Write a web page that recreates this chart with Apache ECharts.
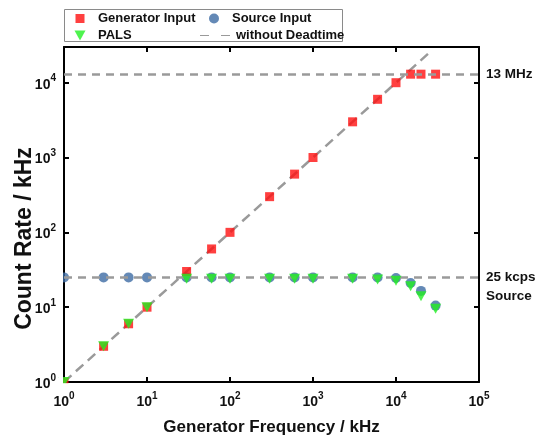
<!DOCTYPE html>
<html>
<head>
<meta charset="utf-8">
<script src="https://cdn.jsdelivr.net/npm/echarts@6/dist/echarts.min.js"></script>
<style>
  html, body { margin: 0; padding: 0; background: #ffffff; }
  #chart { width: 537px; height: 439px; }
</style>
</head>
<body>
<div id="chart"></div>
<script>
// Generator frequency (kHz) and measured count rates (kHz)
const frequencies = [1, 3, 6, 10, 30, 60, 100, 300, 600, 1000, 3000, 6000, 10000, 15000, 20000, 30000];
const generatorInput = [1, 3, 6, 10, 30, 60, 100, 300, 600, 1000, 3000, 6000, 10000, 13000, 13000, 13000];
const sourceInput = [25, 25, 25, 25, 25, 25, 25, 25, 25, 25, 25, 25, 24.5, 21, 16.5, 10.5];
const pals = [1, 3, 6, 10, 24, 24, 24, 24, 24, 24, 24, 23.5, 22.5, 19, 14, 9.5];

// Ideal response (count rate equals generator frequency)
const idealRange = [1, 25000];

// Saturation levels and their annotations
const saturationLevels = [13000, 25];
const saturationLabels = ['13 MHz', ' \n25 kcps\nSource'];

const FONT = '"Liberation Sans", Arial, sans-serif';
const GREY = '#9a9a9a';

const pairs = (xs, ys) => xs.map((x, i) => [x, ys[i]]);

function powerLabel(v) {
  const e = Math.round(Math.log10(v));
  if (Math.abs(Math.pow(10, e) - v) / v > 1e-6) return '';
  return '{b|10}{e|' + e + '}';
}
const powerRich = {
  b: { fontSize: 14, fontWeight: 'bold', fontFamily: FONT, color: '#111', lineHeight: 18, verticalAlign: 'bottom' },
  e: { fontSize: 10, fontWeight: 'bold', fontFamily: FONT, color: '#111', lineHeight: 10, verticalAlign: 'top' }
};

const boxAxisLine = { show: true, lineStyle: { color: '#000', width: 2 } };
const boxTicks = { show: true, inside: true, length: 5, lineStyle: { color: '#000', width: 2 } };

const legendText = { fontSize: 13, fontWeight: 'bold', fontFamily: FONT, color: '#111' };
const withPad = (left) => Object.assign({ padding: [0, 0, 0, left] }, legendText);

const chart = echarts.init(document.getElementById('chart'), null, { renderer: 'canvas' });

chart.setOption({
  backgroundColor: '#ffffff',
  animation: false,
  grid: { left: 64, right: 58, top: 47, bottom: 57, containLabel: false, outerBoundsMode: 'none' },
  legend: [
    { data: ['Generator Input'], left: 70.5, top: 7, itemWidth: 9, itemHeight: 9,
      textStyle: withPad(8.5), selectedMode: false },
    { data: ['Source Input'], left: 204, top: 7, itemWidth: 10, itemHeight: 10,
      textStyle: withPad(8), selectedMode: false },
    { data: [{ name: 'PALS', icon: 'path://M0,0L11,0L5.5,10Z' }], left: 69.5, top: 24,
      itemWidth: 11, itemHeight: 10, textStyle: withPad(7.5), selectedMode: false },
    { data: [{ name: 'without Deadtime', icon: 'path://M0,0H9V1H0Z M21,0H30V1H21Z' }],
      left: 195, top: 24, itemWidth: 30, itemHeight: 2.5,
      textStyle: withPad(1), selectedMode: false }
  ],
  graphic: [
    // legend frame
    { type: 'rect', shape: { x: 64.5, y: 9.5, width: 278, height: 32 }, z: 1,
      style: { fill: 'none', stroke: '#8a8a8a', lineWidth: 1 } },
    // hide marker parts that fall outside the plot frame
    { type: 'rect', shape: { x: 58.6, y: 40, width: 4.4, height: 350 }, z: 50, style: { fill: '#fff' } },
    { type: 'rect', shape: { x: 58.6, y: 383.2, width: 22, height: 6 }, z: 50, style: { fill: '#fff' } }
  ],
  xAxis: [
    {
      type: 'log', logBase: 10, min: 1, max: 100000, position: 'bottom',
      name: 'Generator Frequency / kHz', nameLocation: 'middle', nameGap: 37,
      nameTextStyle: { fontSize: 17, fontWeight: 'bold', fontFamily: FONT, color: '#111' },
      axisLine: boxAxisLine, axisTick: boxTicks, minorTick: { show: false },
      splitLine: { show: false },
      axisLabel: { margin: 9, formatter: powerLabel, rich: powerRich }
    },
    {
      type: 'log', logBase: 10, min: 1, max: 100000, position: 'top',
      axisLine: boxAxisLine, axisTick: boxTicks, splitLine: { show: false },
      axisLabel: { show: false }
    }
  ],
  yAxis: [
    {
      type: 'log', logBase: 10, min: 1, max: 30000, position: 'left',
      name: 'Count Rate / kHz', nameLocation: 'middle', nameGap: 28, nameRotate: 90,
      nameMoveOverlap: false,
      nameTextStyle: { fontSize: 23, fontWeight: 'bold', fontFamily: FONT, color: '#111',
        padding: [0, 48, 0, 0] },
      axisLine: boxAxisLine, axisTick: boxTicks, minorTick: { show: false },
      splitLine: { show: false },
      axisLabel: { margin: 8, formatter: powerLabel, rich: powerRich }
    },
    {
      type: 'log', logBase: 10, min: 1, max: 30000, position: 'right',
      axisLine: boxAxisLine, axisTick: boxTicks, splitLine: { show: false },
      axisLabel: { show: false }
    }
  ],
  series: [
    {
      name: 'without Deadtime', type: 'line', z: 1,
      data: [[idealRange[0], idealRange[0]], [idealRange[1], idealRange[1]]],
      symbol: 'none', itemStyle: { color: GREY },
      lineStyle: { color: GREY, width: 2.5, type: [10, 6] },
      markLine: {
        silent: true, symbol: 'none', animation: false,
        lineStyle: { color: GREY, width: 2.5, type: [8, 6] },
        label: {
          position: 'end', distance: 7, fontSize: 13.5, fontWeight: 'bold',
          fontFamily: FONT, color: '#111', lineHeight: 19, align: 'left',
          formatter: p => p.name
        },
        data: saturationLevels.map((v, i) => ({ yAxis: v, name: saturationLabels[i] }))
      }
    },
    {
      name: 'Source Input', type: 'scatter', z: 3,
      data: pairs(frequencies, sourceInput),
      symbol: 'circle', symbolSize: 10,
      itemStyle: { color: '#3d6ca4' }
    },
    {
      name: 'Generator Input', type: 'scatter', z: 4,
      data: pairs(frequencies, generatorInput),
      symbol: 'rect', symbolSize: 9,
      itemStyle: { color: '#ff1010' }
    },
    {
      name: 'PALS', type: 'scatter', z: 5,
      data: pairs(frequencies, pals),
      symbol: 'triangle', symbolRotate: 180, symbolSize: [11, 10],
      itemStyle: { color: '#22f022' }
    }
  ]
});
</script>
</body>
</html>
